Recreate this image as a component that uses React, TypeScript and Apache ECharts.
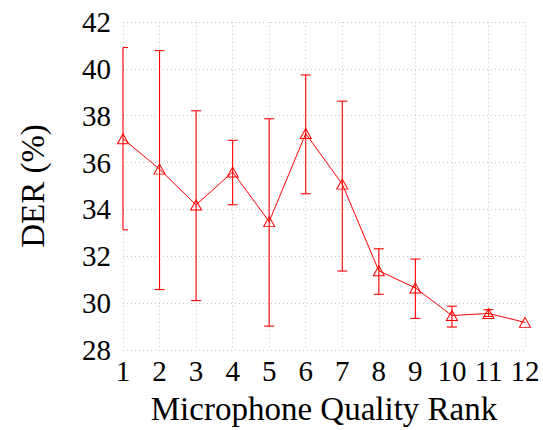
import React, { useEffect, useRef } from "react";
import * as echarts from "echarts";

// Microphone quality rank (x) vs. mean DER with min/max spread
const ranks = [1, 2, 3, 4, 5, 6, 7, 8, 9, 10, 11, 12];
const derMean = [37.02, 35.72, 34.19, 35.6, 33.48, 37.24, 35.08, 31.38, 30.65, 29.47, 29.56, 29.18];
const derHigh = [40.91, 40.78, 38.21, 36.95, 37.87, 39.74, 38.62, 32.32, 31.88, 29.87, 29.72, 29.18];
const derLow = [33.13, 30.58, 30.11, 34.2, 29.02, 34.67, 31.37, 30.38, 29.35, 28.98, 29.43, 29.18];

const xTicks = ranks;
const yMin = 28;
const yMax = 42;
const yStep = 2;

const RED = "#ff0000";
const FONT = "Liberation Serif";

export default function App() {
  const ref = useRef<HTMLDivElement>(null);

  useEffect(() => {
    if (!ref.current) return;
    const chart = echarts.init(ref.current, null, { renderer: "svg" });

    const lineData = ranks.map((r, i) => [r, derMean[i]]);
    const barData = ranks.map((r, i) => [r, derLow[i], derHigh[i]]);

    chart.setOption({
      animation: false,
      backgroundColor: "#ffffff",
      textStyle: { fontFamily: FONT },
      grid: { left: 123, right: 18, top: 22, bottom: 78, containLabel: false },
      xAxis: {
        type: "value",
        min: xTicks[0],
        max: xTicks[xTicks.length - 1],
        interval: 1,
        name: "Microphone Quality Rank",
        nameLocation: "middle",
        nameGap: 42,
        nameTextStyle: { fontFamily: FONT, fontSize: 33, color: "#000" },
        axisLine: { show: false },
        axisTick: { show: false },
        axisLabel: { fontFamily: FONT, fontSize: 29, color: "#000", margin: 6 },
        splitLine: { show: true, lineStyle: { color: "#c8c8c8", width: 1, type: [1, 3] } },
      },
      yAxis: {
        type: "value",
        min: yMin,
        max: yMax,
        interval: yStep,
        name: "DER (%)",
        nameLocation: "middle",
        nameGap: 74,
        nameRotate: 90,
        nameTextStyle: { fontFamily: FONT, fontSize: 33, color: "#000" },
        axisLine: { show: false },
        axisTick: { show: false },
        axisLabel: { fontFamily: FONT, fontSize: 29, color: "#000", margin: 12 },
        splitLine: { show: true, lineStyle: { color: "#c8c8c8", width: 1, type: [1, 3] } },
      },
      series: [
        {
          type: "custom",
          data: barData,
          z: 4,
          renderItem: (params: any, api: any) => {
            const x = api.value(0);
            const lo = api.value(1);
            const hi = api.value(2);
            if (hi - lo <= 0) return null;
            const pLo = api.coord([x, lo]);
            const pHi = api.coord([x, hi]);
            const cs = params.coordSys;
            const half = 5;
            // caps are trimmed to the plot area
            const x0 = Math.max(pLo[0] - half, cs.x);
            const x1 = Math.min(pLo[0] + half, cs.x + cs.width);
            const style = { stroke: RED, lineWidth: 1.1, fill: "none" };
            return {
              type: "group",
              children: [
                { type: "line", shape: { x1: pLo[0], y1: pLo[1], x2: pHi[0], y2: pHi[1] }, style },
                { type: "line", shape: { x1: x0, y1: pHi[1], x2: x1, y2: pHi[1] }, style },
                { type: "line", shape: { x1: x0, y1: pLo[1], x2: x1, y2: pLo[1] }, style },
              ],
            };
          },
        },
        {
          type: "line",
          data: lineData,
          z: 5,
          symbol: "triangle",
          symbolSize: [11, 10],
          lineStyle: { color: RED, width: 1 },
          itemStyle: { color: "rgba(255,255,255,0)", borderColor: RED, borderWidth: 1 },
        },
      ],
    });

    return () => chart.dispose();
  }, []);

  return (
    <div
      ref={ref}
      style={{ position: "fixed", left: 0, top: 0, width: 543, height: 430 }}
    />
  );
}
